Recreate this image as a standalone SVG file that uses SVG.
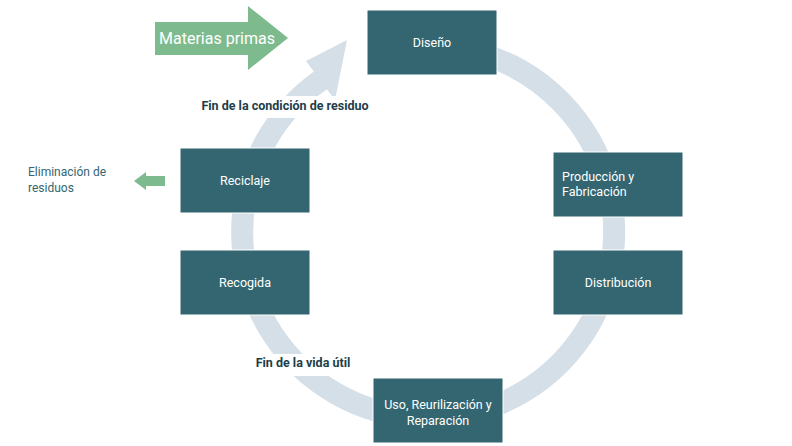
<svg xmlns="http://www.w3.org/2000/svg" width="792" height="446" viewBox="0 0 792 446">
<style>
.n{fill:#336670;stroke:#fff;stroke-width:1}
.t{font-family:"Roboto","Liberation Sans",sans-serif;font-size:12.5px;fill:#fff;text-anchor:middle}
.b{font-family:"Roboto","Liberation Sans",sans-serif;font-size:12.5px;font-weight:bold;fill:#1d3e48;text-anchor:middle}
</style>
<rect width="792" height="446" fill="#fff"/>
<g id="connectors">
<path d="M395.7 48.8 A186 186 0 1 1 321.3 79.7" fill="none" stroke="#d5dfe8" stroke-width="22"/>
<polygon points="347,40 306,61 335,100" fill="#d5dfe8"/>
<rect x="195" y="96" width="180" height="22" fill="#fff"/>
<rect x="250" y="354" width="105" height="22" fill="#fff"/>
<polygon points="155,22 248,22 248,6 288,38 248,70 248,55 155,55" fill="#7dbb8e"/>
<polygon points="134,181 146,172 146,176 165,176 165,186 146,186 146,190" fill="#7dbb8e"/>
</g>
<g id="materias"><text x="217" y="44" font-family="Roboto,'Liberation Sans',sans-serif" font-size="16" fill="#fff" text-anchor="middle">Materias primas</text></g>
<g id="eliminacion"><text font-family="Roboto,'Liberation Sans',sans-serif" font-size="12" fill="#336670"><tspan x="28" y="176">Eliminación de</tspan><tspan x="28" y="192">residuos</tspan></text></g>
<g id="fin1"><text class="b" x="285" y="110">Fin de la condición de residuo</text></g>
<g id="fin2"><text class="b" x="303" y="367">Fin de la vida útil</text></g>
<g id="diseno"><rect class="n" x="367" y="10" width="130" height="65"/><text class="t" x="432" y="47">Diseño</text></g>
<g id="produccion"><rect class="n" x="553" y="152" width="130" height="65"/><text class="t" x="562" y="181" text-anchor="start" style="text-anchor:start">Producción y</text><text class="t" style="text-anchor:start" x="562" y="196">Fabricación</text></g>
<g id="distribucion"><rect class="n" x="553" y="250" width="130" height="65"/><text class="t" x="618" y="287">Distribución</text></g>
<g id="uso"><rect class="n" x="373" y="378" width="130" height="65"/><text class="t" x="438" y="409">Uso, Reurilización y</text><text class="t" x="438" y="425">Reparación</text></g>
<g id="reciclaje"><rect class="n" x="180" y="148" width="130" height="65"/><text class="t" x="245" y="185">Reciclaje</text></g>
<g id="recogida"><rect class="n" x="180" y="250" width="130" height="65"/><text class="t" x="245" y="287">Recogida</text></g>
</svg>
